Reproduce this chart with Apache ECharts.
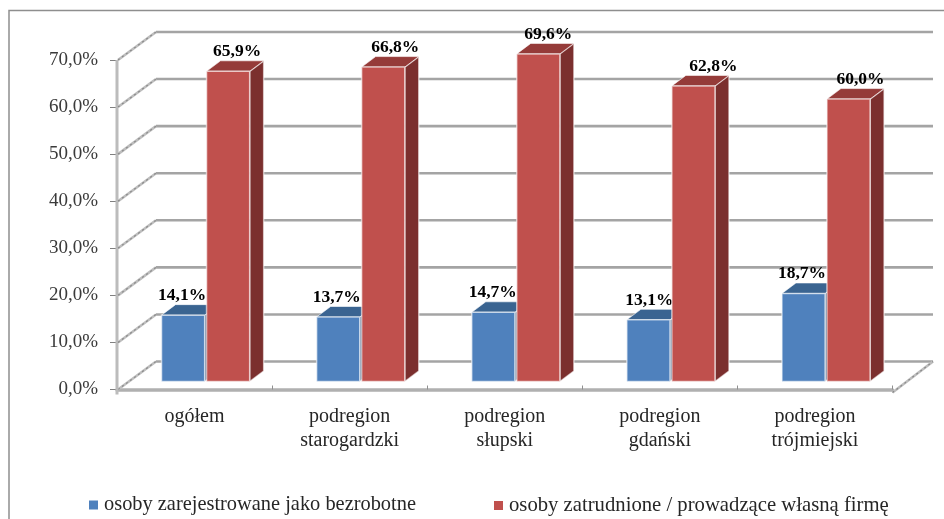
<!DOCTYPE html>
<html>
<head>
<meta charset="utf-8">
<style>
  html, body { margin: 0; padding: 0; background: #fff; }
  #main { width: 944px; height: 519px; }
</style>
<script src="https://cdn.jsdelivr.net/npm/echarts@6/dist/echarts.min.js"></script>
</head>
<body>
<div id="main"></div>
<script>
var categories = ['ogółem', 'podregion\nstarogardzki', 'podregion\nsłupski', 'podregion\ngdański', 'podregion\ntrójmiejski'];
var bezrobotne = [14.1, 13.7, 14.7, 13.1, 18.7];
var zatrudnione = [65.9, 66.8, 69.6, 62.8, 60.0];
var ticks = [0, 10, 20, 30, 40, 50, 60, 70];
var nameBlue = 'osoby zarejestrowane jako bezrobotne';
var nameRed = 'osoby zatrudnione / prowadzące własną firmę';

var font = '"Liberation Serif", serif';
function pct(v) { return v.toFixed(1).replace('.', ',') + '%'; }

// back wall + side wall lines, one per tick
function renderWall(params, api) {
  var cs = params.coordSys;
  var y = api.coord([0, api.value(0)])[1];
  var left = cs.x + 1, right = cs.x + cs.width;
  var kids = [{
    type: 'polyline',
    shape: { points: [[left + 38, y - 28], [right + 40.5, y - 28]] },
    style: { fill: null, stroke: '#a4a4a4', lineWidth: 2.6 }
  }, {
    type: 'line',
    shape: { x1: left, y1: y, x2: left + 38, y2: y - 28 },
    style: { stroke: '#bdbdbd', lineWidth: 2.6 }
  }, {
    type: 'line',
    shape: { x1: left, y1: y, x2: left + 38, y2: y - 28 },
    style: { stroke: '#8a8a8a', lineWidth: 1.2, lineDash: [2, 3] }
  }];
  if (api.value(0) === 0) {
    // floor edge on the right and the vertical axis
    kids.push({
      type: 'line',
      shape: { x1: right, y1: y + 3, x2: right + 40.5, y2: y - 28 },
      style: { stroke: '#bdbdbd', lineWidth: 2.6 }
    }, {
      type: 'line',
      shape: { x1: right, y1: y + 3, x2: right + 40.5, y2: y - 28 },
      style: { stroke: '#8a8a8a', lineWidth: 1.2, lineDash: [2, 3] }
    }, {
      type: 'line',
      shape: { x1: cs.x, y1: cs.y, x2: cs.x, y2: y + 5 },
      style: { stroke: '#bcbcbc', lineWidth: 3 }
    });
  }
  return { type: 'group', children: kids };
}

function makeBar(front, top, side, shift, labelShift) {
  return function (params, api) {
    var cat = api.value(0), val = api.value(1);
    var base = api.coord([cat, 0]);
    var head = api.coord([cat, val]);
    var w = api.size([1, 0])[0] * 0.278;
    var x = base[0] + shift;
    var y0 = base[1] - 8, y1 = head[1] - 8;
    var dx = 14, dy = 10.5;
    var edge = 'rgba(255,255,255,0.6)';
    return {
      type: 'group',
      children: [{
        type: 'polygon',
        shape: { points: [[x + w, y0], [x + w + dx, y0 - dy], [x + w + dx, y1 - dy], [x + w, y1]] },
        style: { fill: side, stroke: edge, lineWidth: 1.5 }
      }, {
        type: 'polygon',
        shape: { points: [[x, y1], [x + dx, y1 - dy], [x + w + dx, y1 - dy], [x + w, y1]] },
        style: { fill: top, stroke: edge, lineWidth: 1 }
      }, {
        type: 'rect',
        shape: { x: x, y: y1, width: w, height: y0 - y1 },
        style: { fill: front, stroke: edge, lineWidth: 1.5 }
      }, {
        type: 'text',
        z2: 50,
        style: {
          x: x + w / 2 + labelShift[params.dataIndex], y: y1 - 19.5,
          text: pct(val),
          font: 'bold 17.5px ' + font,
          fill: '#000', align: 'center', verticalAlign: 'middle'
        }
      }]
    };
  };
}

var chart = echarts.init(document.getElementById('main'), null, { renderer: 'canvas' });
chart.setOption({
  animation: false,
  backgroundColor: '#fff',
  graphic: [{
    type: 'rect',
    silent: true,
    shape: { x: 9, y: 10.5, width: 1000, height: 1000 },
    style: { fill: null, stroke: '#8e8e8e', lineWidth: 1.5 }
  }],
  grid: { left: 117, top: 60, width: 775.5, height: 329.5, containLabel: false },
  legend: [{
    left: 89, top: 495, padding: 0, icon: 'rect', itemWidth: 9, itemHeight: 9, itemGap: 0,
    data: [nameBlue],
    textStyle: { fontFamily: font, fontSize: 20.4, color: '#262626', padding: [0, 0, 0, 1] }
  }, {
    left: 494, top: 495, padding: 0, icon: 'rect', itemWidth: 9, itemHeight: 9, itemGap: 0,
    data: [nameRed],
    textStyle: { fontFamily: font, fontSize: 20.7, color: '#262626', padding: [0, 0, 0, 1] }
  }],
  xAxis: {
    type: 'category',
    data: categories,
    offset: 3,
    axisLine: { lineStyle: { color: '#b0b0b0', width: 3.5 } },
    axisTick: { show: true, alignWithLabel: false, inside: true, length: 4, lineStyle: { color: '#909090', width: 1 } },
    axisLabel: { fontFamily: font, fontSize: 20, color: '#262626', lineHeight: 24, margin: 12, interval: 0 }
  },
  yAxis: {
    type: 'value',
    min: 0, max: 70, interval: 10,
    axisLine: { show: false },
    axisTick: { show: true, length: 7, lineStyle: { color: '#808080', width: 1 } },
    splitLine: { show: false },
    axisLabel: {
      fontFamily: font, fontSize: 19, color: '#3a3a3a', margin: 19,
      formatter: function (v) { return pct(v); }
    }
  },
  series: [{
    name: 'wall',
    type: 'custom',
    silent: true,
    clip: false,
    z: 1,
    encode: { y: 0 },
    data: ticks.map(function (t) { return [t]; }),
    renderItem: renderWall
  }, {
    name: nameBlue,
    type: 'custom',
    silent: true,
    clip: false,
    z: 2,
    itemStyle: { color: '#4F81BD' },
    encode: { x: 0, y: 1 },
    data: bezrobotne.map(function (v, i) { return [i, v]; }),
    renderItem: makeBar('#4F81BD', '#3A6491', '#2F4F75', -33, [-1, -1.5, -0.5, 1, -1.5])
  }, {
    name: nameRed,
    type: 'custom',
    silent: true,
    clip: false,
    z: 3,
    itemStyle: { color: '#C0504D' },
    encode: { x: 0, y: 1 },
    data: zatrudnione.map(function (v, i) { return [i, v]; }),
    renderItem: makeBar('#C0504D', '#953B39', '#7B2F2E', 12, [9, 12, 10, 20, 12])
  }]
});
</script>
</body>
</html>
